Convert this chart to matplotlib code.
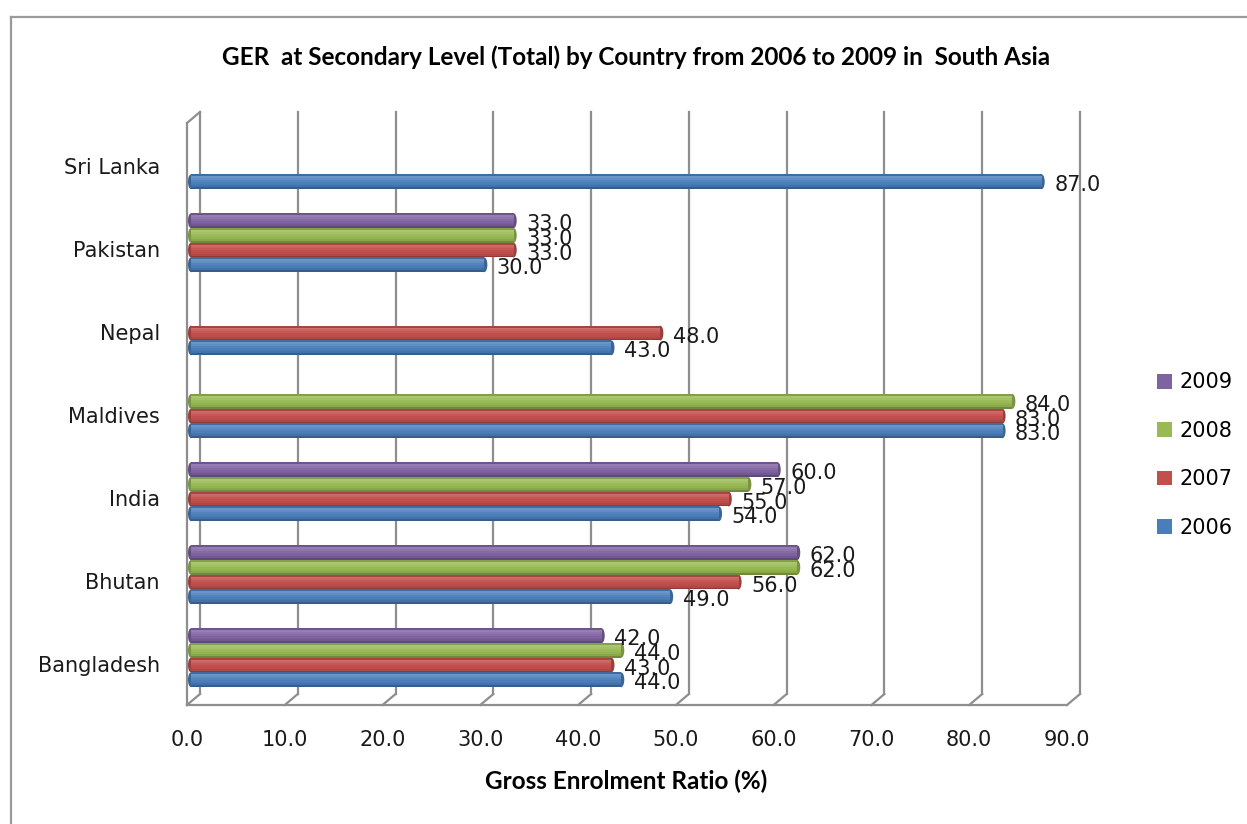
import numpy as np
import matplotlib.pyplot as plt
from matplotlib import transforms
from matplotlib.colors import to_rgb
from matplotlib.lines import Line2D
from matplotlib.patches import Ellipse, Patch

countries = ["Bangladesh", "Bhutan", "India", "Maldives", "Nepal", "Pakistan", "Sri Lanka"]
years = ["2006", "2007", "2008", "2009"]
ger_2006 = [44, 49, 54, 83, 43, 30, 87]
ger_2007 = [43, 56, 55, 83, 48, 33, np.nan]
ger_2008 = [44, 62, 57, 84, np.nan, 33, np.nan]
ger_2009 = [42, 62, 60, np.nan, np.nan, 33, np.nan]
xticks = np.arange(0, 100, 10)

series = [ger_2006, ger_2007, ger_2008, ger_2009]
colors = ["#4a7ebb", "#c24f4c", "#98b954", "#7f62a1"]

W, H = 1247, 824
fig = plt.figure(figsize=(W / 100, H / 100), dpi=100)
fig.patch.set_facecolor("white")

# front plane of the 3-D box
ax = fig.add_axes([187 / W, (H - 705) / H, 880 / W, 582 / H])
ax.set_xlim(0, 90)
ax.set_ylim(-0.494, -0.494 + 582 / 83)
for s in ax.spines.values():
    s.set_visible(False)
ax.set_facecolor("none")

# back plane is shifted right and up
back = ax.transData + transforms.ScaledTranslation(13 / 100, 11 / 100, fig.dpi_scale_trans)
y0, y1 = ax.get_ylim()
grid_kw = dict(color="#8e8e8e", lw=1.6, clip_on=False, zorder=1)
for t in xticks:
    ax.plot([t, t], [y0, y1], transform=back, **grid_kw)
    # floor diagonal from the back wall to the front edge
    p_back = back.transform((t, y0))
    p_front = ax.transData.transform((t, y0))
    fig.add_artist(Line2D([p_front[0], p_back[0]], [p_front[1], p_back[1]],
                          transform=None, **grid_kw))
ax.plot([0, 90], [y0, y0], **grid_kw)
ax.plot([0, 0], [y0, y1], **grid_kw)
pf = ax.transData.transform((0, y1))
pb = back.transform((0, y1))
fig.add_artist(Line2D([pf[0], pb[0]], [pf[1], pb[1]], transform=None, **grid_kw))

# cylinder-style bars built from thin shaded slices
def tint(c, f):
    c = np.array(to_rgb(c))
    if f >= 1:
        return tuple(c + (1 - c) * (f - 1))
    return tuple(c * f)

shade = [0.86, 1.18, 1.12, 1.05, 1.0, 0.97, 0.9, 0.74]
depth = 0.41
bar_h = 0.178
offsets = [-0.19, -0.013, 0.164, 0.341]
ypos = np.arange(len(countries))

for vals, col, off in zip(series, colors, offsets):
    vals = np.array(vals, dtype=float)
    ok = ~np.isnan(vals)
    yc = ypos[ok] + off
    v = vals[ok]
    n = len(shade)
    for i, f in enumerate(shade):
        ax.barh(yc + bar_h / 2 - (i + 0.5) * bar_h / n, v, height=bar_h / n * 1.02,
                left=depth, color=tint(col, f), linewidth=0, zorder=3)
    for yy, vv in zip(yc, v):
        for xx in (depth, depth + vv):
            ax.add_patch(Ellipse((xx, yy), 0.62, bar_h, facecolor=tint(col, 0.8),
                                 edgecolor="none", zorder=2.9))
        ax.annotate(f"{vv:.1f}", xy=(depth + vv, yy), xytext=(9, -2.5),
                    textcoords="offset points", ha="left", va="center",
                    fontsize=15, color="#1a1a1a", zorder=5)

ax.set_xticks(xticks, labels=[f"{t:.1f}" for t in xticks])
ax.set_yticks(ypos, labels=countries)
ax.tick_params(axis="x", length=0, pad=18, labelsize=15, colors="#1a1a1a")
ax.tick_params(axis="y", length=0, pad=19.5, labelsize=15, colors="#1a1a1a")

handles = [Patch(facecolor=c) for c in colors]
ax.legend(handles[::-1], years[::-1], loc="center left",
          bbox_to_anchor=(1157 / W, 1 - 455 / H), bbox_transform=fig.transFigure,
          frameon=False, fontsize=15, handlelength=0.7, handleheight=0.7,
          handletextpad=0.4, labelspacing=1.36, borderpad=0, borderaxespad=0)

fig.text(636 / W, 1 - 57 / H,
         "GER  at Secondary Level (Total) by Country from 2006 to 2009 in  South Asia",
         ha="center", va="center", fontsize=17.5, fontweight="bold", family="Lato")
fig.text(626 / W, 1 - 781 / H, "Gross Enrolment Ratio (%)",
         ha="center", va="center", fontsize=17.5, fontweight="bold", family="Lato")

# chart area border
fig.add_artist(Line2D([11 / W, 1], [1 - 17 / H] * 2, transform=fig.transFigure,
                      color="#9a9a9a", lw=1.6))
fig.add_artist(Line2D([11 / W] * 2, [0, 1 - 17 / H], transform=fig.transFigure,
                      color="#9a9a9a", lw=1.6))

fig.savefig("out.png", dpi=100)
